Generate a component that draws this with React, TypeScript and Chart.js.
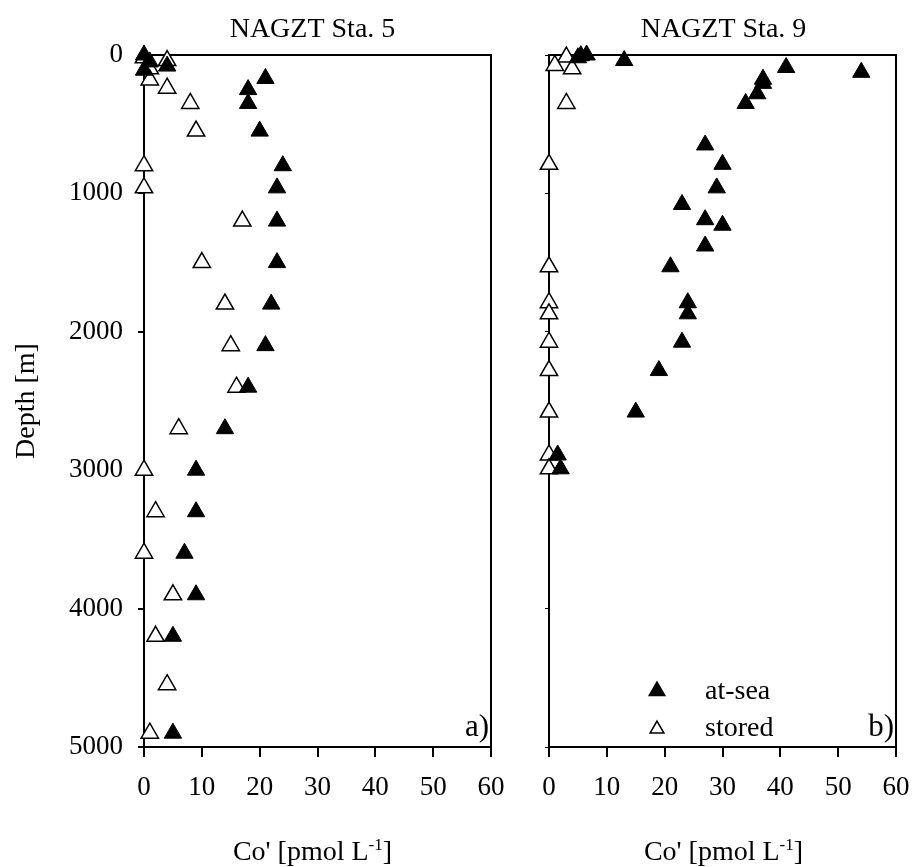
import React, { useEffect, useRef } from 'react';
import { Chart, registerables } from 'chart.js';

Chart.register(...registerables);

// ---------------- data ----------------
const coTicks = [0, 10, 20, 30, 40, 50, 60];
const depthTicks = [0, 1000, 2000, 3000, 4000, 5000];

const seriesLabels = ['at-sea', 'stored'];
const panelTitles = ['NAGZT Sta. 5', 'NAGZT Sta. 9'];
const panelLetters = ['a)', 'b)'];
const yTitle = 'Depth [m]';
const xTitleMain = "Co' [pmol L";
const xTitleSup = '-1';
const xTitleEnd = ']';

// Station 5 (panel a)
const sta5AtSeaCo = [0, 1, 0, 4, 21, 18, 18, 20, 24, 23, 23, 23, 22, 21, 18, 14, 9, 9, 7, 9, 5, 5];
const sta5AtSeaDepth = [0, 50, 110, 80, 170, 250, 350, 550, 800, 960, 1200, 1500, 1800, 2100, 2400, 2700, 3000, 3300, 3600, 3900, 4200, 4900];
const sta5StoredCo = [0, 4, 1, 1, 4, 8, 9, 0, 0, 17, 10, 14, 15, 16, 6, 0, 2, 0, 5, 2, 4, 1];
const sta5StoredDepth = [20, 40, 100, 180, 240, 350, 550, 800, 960, 1200, 1500, 1800, 2100, 2400, 2700, 3000, 3300, 3600, 3900, 4200, 4550, 4900];

// Station 9 (panel b)
const sta9AtSeaCo = [6.5, 5.5, 5, 13, 41, 54, 37, 37, 36, 34, 27, 30, 29, 23, 27, 30, 27, 21, 24, 24, 23, 19, 15, 1.5, 2];
const sta9AtSeaDepth = [0, 5, 20, 40, 90, 125, 175, 205, 280, 350, 650, 790, 960, 1080, 1190, 1230, 1380, 1530, 1790, 1870, 2075, 2280, 2580, 2890, 2990];
const sta9StoredCo = [3, 1, 4, 3, 0, 0, 0, 0, 0, 0, 0, 0, 0];
const sta9StoredDepth = [15, 75, 100, 350, 790, 1530, 1790, 1870, 2075, 2280, 2580, 2890, 2990];

// ---------------- styling ----------------
const FONT = '"Liberation Serif", "Times New Roman", Times, serif';
const BLACK = '#000000';
const POINT_R = 10;

type Panel = {
  left: number;
  width: number;
  yWidth: number;
  padRight: number;
  showYLabels: boolean;
  yTickLen: number;
  title: string;
  letter: string;
  atSeaCo: number[];
  atSeaDepth: number[];
  storedCo: number[];
  storedDepth: number[];
  showYTitle: boolean;
  showLegend: boolean;
  titleShift: number;
};

const panels: Panel[] = [
  {
    left: 0, width: 520, yWidth: 144, padRight: 29, showYLabels: true, yTickLen: 6,
    title: panelTitles[0], letter: panelLetters[0],
    atSeaCo: sta5AtSeaCo, atSeaDepth: sta5AtSeaDepth, storedCo: sta5StoredCo, storedDepth: sta5StoredDepth,
    showYTitle: true, showLegend: false, titleShift: -5,
  },
  {
    left: 520, width: 395, yWidth: 29, padRight: 19, showYLabels: false, yTickLen: 4,
    title: panelTitles[1], letter: panelLetters[1],
    atSeaCo: sta9AtSeaCo, atSeaDepth: sta9AtSeaDepth, storedCo: sta9StoredCo, storedDepth: sta9StoredDepth,
    showYTitle: false, showLegend: true, titleShift: 1,
  },
];

function triangle(ctx: CanvasRenderingContext2D, x: number, y: number, r: number, fill: string) {
  ctx.beginPath();
  for (let i = 0; i < 3; i++) {
    const a = (i * 2 * Math.PI) / 3;
    const px = x + Math.sin(a) * r;
    const py = y - Math.cos(a) * r;
    if (i === 0) ctx.moveTo(px, py);
    else ctx.lineTo(px, py);
  }
  ctx.closePath();
  ctx.fillStyle = fill;
  ctx.fill();
  ctx.lineWidth = 1.5;
  ctx.strokeStyle = BLACK;
  ctx.stroke();
}

function makeChart(canvas: HTMLCanvasElement, p: Panel) {
  const framePlugin = {
    id: 'frame' + p.left,
    beforeDatasetsDraw(chart: any) {
      const { ctx, chartArea: a } = chart;
      ctx.save();
      ctx.strokeStyle = BLACK;
      ctx.lineWidth = 2;
      ctx.strokeRect(a.left, a.top, a.right - a.left, a.bottom - a.top);
      ctx.restore();
    },
  };

  const textPlugin = {
    id: 'text' + p.left,
    afterDraw(chart: any) {
      const { ctx, chartArea: a } = chart;
      const cx = (a.left + a.right) / 2 + p.titleShift;
      ctx.save();
      ctx.fillStyle = BLACK;

      // panel title
      ctx.font = `28px ${FONT}`;
      ctx.textAlign = 'center';
      ctx.textBaseline = 'alphabetic';
      ctx.fillText(p.title, cx, 37);

      // x title with superscript
      const mainFont = `28px ${FONT}`;
      const supFont = `17px ${FONT}`;
      ctx.font = mainFont;
      const w1 = ctx.measureText(xTitleMain).width;
      const w3 = ctx.measureText(xTitleEnd).width;
      ctx.font = supFont;
      const w2 = ctx.measureText(xTitleSup).width;
      const total = w1 + w2 + w3;
      const x0 = cx - total / 2;
      const base = 860;
      ctx.textAlign = 'left';
      ctx.font = mainFont;
      ctx.fillText(xTitleMain, x0, base);
      ctx.font = supFont;
      ctx.fillText(xTitleSup, x0 + w1, base - 10);
      ctx.font = mainFont;
      ctx.fillText(xTitleEnd, x0 + w1 + w2, base);

      // y title
      if (p.showYTitle) {
        ctx.save();
        ctx.translate(27, (a.top + a.bottom) / 2);
        ctx.rotate(-Math.PI / 2);
        ctx.font = `28px ${FONT}`;
        ctx.textAlign = 'center';
        ctx.textBaseline = 'middle';
        ctx.fillText(yTitle, 0, 0);
        ctx.restore();
      }

      // panel letter
      ctx.font = `31px ${FONT}`;
      ctx.textAlign = 'right';
      ctx.textBaseline = 'alphabetic';
      ctx.fillText(p.letter, a.right - 2, a.bottom - 11);

      // legend
      if (p.showLegend) {
        const sx = a.left + 108;
        const tx = a.left + 156;
        triangle(ctx, sx, 691, 9, BLACK);
        triangle(ctx, sx, 729, 8, '#ffffff');
        ctx.fillStyle = BLACK;
        ctx.font = `28px ${FONT}`;
        ctx.textAlign = 'left';
        ctx.textBaseline = 'alphabetic';
        ctx.fillText(seriesLabels[0], tx, 699);
        ctx.fillText(seriesLabels[1], tx, 736);
      }
      ctx.restore();
    },
  };

  const toPts = (xs: number[], ys: number[]) => xs.map((x, i) => ({ x, y: ys[i] }));

  return new Chart(canvas, {
    type: 'scatter',
    data: {
      datasets: [
        {
          label: seriesLabels[0],
          data: toPts(p.atSeaCo, p.atSeaDepth),
          pointStyle: 'triangle',
          pointRadius: POINT_R,
          pointHoverRadius: POINT_R,
          backgroundColor: BLACK,
          borderColor: BLACK,
          borderWidth: 1,
          clip: false,
        } as any,
        {
          label: seriesLabels[1],
          data: toPts(p.storedCo, p.storedDepth),
          pointStyle: 'triangle',
          pointRadius: POINT_R,
          pointHoverRadius: POINT_R,
          backgroundColor: '#ffffff',
          borderColor: BLACK,
          borderWidth: 1.5,
          clip: false,
        } as any,
      ],
    },
    options: {
      animation: false,
      responsive: false,
      maintainAspectRatio: false,
      devicePixelRatio: 1,
      events: [],
      layout: { padding: { left: 0, right: p.padRight, top: 55, bottom: 0 } },
      plugins: {
        legend: { display: false },
        tooltip: { enabled: false },
        title: { display: false },
      },
      scales: {
        x: {
          type: 'linear',
          position: 'bottom',
          min: 0,
          max: 60,
          afterBuildTicks: (s: any) => {
            s.ticks = coTicks.map((v) => ({ value: v }));
          },
          afterFit: (s: any) => {
            s.height = 120;
            s.paddingLeft = 0;
            s.paddingRight = 0;
          },
          ticks: {
            autoSkip: false,
            maxRotation: 0,
            padding: 15,
            color: BLACK,
            font: { family: FONT, size: 27 },
            callback: (v: any) => String(v),
          },
          grid: {
            drawOnChartArea: false,
            drawTicks: true,
            tickLength: 10,
            color: BLACK,
            lineWidth: 2,
          },
          border: { display: true, color: BLACK, width: 2 },
        },
        y: {
          type: 'linear',
          position: 'left',
          min: 0,
          max: 5000,
          reverse: true,
          afterBuildTicks: (s: any) => {
            s.ticks = depthTicks.map((v) => ({ value: v }));
          },
          afterFit: (s: any) => {
            s.width = p.yWidth;
            s.paddingTop = 0;
            s.paddingBottom = 0;
          },
          ticks: {
            display: p.showYLabels,
            autoSkip: false,
            padding: 15,
            color: BLACK,
            font: { family: FONT, size: 27 },
            callback: (v: any) => String(v),
          },
          grid: {
            drawOnChartArea: false,
            drawTicks: true,
            tickLength: p.yTickLen,
            color: BLACK,
            lineWidth: p.showYLabels ? 2 : 1,
          },
          border: { display: true, color: BLACK, width: 2 },
        },
      },
    } as any,
    plugins: [framePlugin, textPlugin],
  });
}

function PanelChart({ p }: { p: Panel }) {
  const ref = useRef<HTMLCanvasElement | null>(null);
  useEffect(() => {
    if (!ref.current) return;
    const chart = makeChart(ref.current, p);
    return () => chart.destroy();
  }, [p]);
  return (
    <canvas
      ref={ref}
      width={p.width}
      height={867}
      style={{ position: 'absolute', left: p.left, top: 0, width: p.width, height: 867 }}
    />
  );
}

export default function App() {
  return (
    <div
      style={{
        position: 'fixed',
        left: 0,
        top: 0,
        width: 915,
        height: 867,
        background: '#ffffff',
        overflow: 'hidden',
      }}
    >
      {panels.map((p) => (
        <PanelChart key={p.left} p={p} />
      ))}
    </div>
  );
}
